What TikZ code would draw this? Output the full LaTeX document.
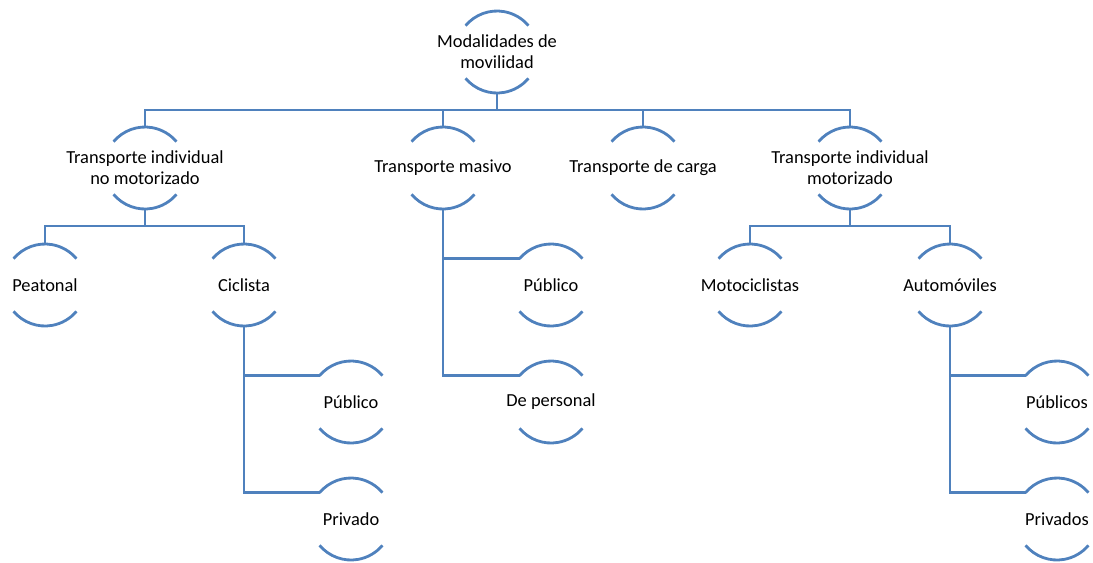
\documentclass[tikz,border=0pt]{standalone}
\usepackage{fontspec}
\setmainfont{Carlito}
\usepackage{tikz}
\usetikzlibrary{calc}
\definecolor{azulmod}{HTML}{4F81BD}

\begin{document}
\begin{tikzpicture}[x=0.75pt, y=0.75pt, semithick]

%====Definizione stile nodi e linee===========================================

	\tikzstyle{modalidad}=[align=center, text=black, font=\fontsize{13.8}{15.5}\selectfont, inner sep=0pt]
	\tikzstyle{arco}=[draw=azulmod, line width=2.1pt]
	\tikzstyle{conector}=[draw=azulmod, line width=2.1pt, line join=miter]

	\useasboundingbox (0,0) rectangle (1093,-562);

%====Definizione nodi e posizione============================================
	\node[modalidad]	(mod) at (497,-52)		{Modalidades de\\movilidad};
	\node[modalidad]	(tin) at (145,-168)		{Transporte individual\\no motorizado};
	\node[modalidad]	(tma) at (443,-168)		{Transporte masivo};
	\node[modalidad]	(tca) at (643,-168)		{Transporte de carga};
	\node[modalidad]	(tim) at (850,-168)		{Transporte individual\\motorizado};
	\node[modalidad]	(pea) at (45,-285)		{Peatonal};
	\node[modalidad]	(cic) at (244,-285)		{Ciclista};
	\node[modalidad]	(cpu) at (351,-402)		{Público};
	\node[modalidad]	(cpr) at (351,-519)		{Privado};
	\node[modalidad]	(mpu) at (551,-285)		{Público};
	\node[modalidad]	(mpe) at (551,-402)		{De personal};
	\node[modalidad]	(mot) at (750,-285)		{Motociclistas};
	\node[modalidad]	(aut) at (950,-285)		{Automóviles};
	\node[modalidad]	(apu) at (1057,-402)	{Públicos};
	\node[modalidad]	(apr) at (1057,-519)	{Privados};

%====Archi sopra e sotto ogni nodo===========================================
	\foreach \n in {mod,tin,tma,tca,tim,pea,cic,cpu,cpr,mpu,mpe,mot,aut,apu,apr}{
		\coordinate (\n-n) at ($(\n.center)+(90:41)$);
		\coordinate (\n-s) at ($(\n.center)+(270:41)$);
		\coordinate (\n-w) at ($(\n.center)+(140:41)$);
		\draw[arco] (\n-w) arc (140:40:41);
		\draw[arco] ($(\n.center)+(220:41)$) arc (220:320:41);
	}

%====Collegamenti================================================================
	\draw[conector] (mod-s) -- ++(0,-17) coordinate (bus1);
	\foreach \h in {tin,tma,tca,tim}
		\draw[conector] (bus1) -| (\h-n);

	\draw[conector] (tin-s) -- ++(0,-17) coordinate (bus2);
	\draw[conector] (bus2) -| (pea-n);
	\draw[conector] (bus2) -| (cic-n);

	\draw[conector] (tim-s) -- ++(0,-17) coordinate (bus3);
	\draw[conector] (bus3) -| (mot-n);
	\draw[conector] (bus3) -| (aut-n);

	\draw[conector] (cic-s) |- (cpu-w);
	\draw[conector] (cic-s) |- (cpr-w);
	\draw[conector] (tma-s) |- (mpu-w);
	\draw[conector] (tma-s) |- (mpe-w);
	\draw[conector] (aut-s) |- (apu-w);
	\draw[conector] (aut-s) |- (apr-w);
\end{tikzpicture}
\end{document}
